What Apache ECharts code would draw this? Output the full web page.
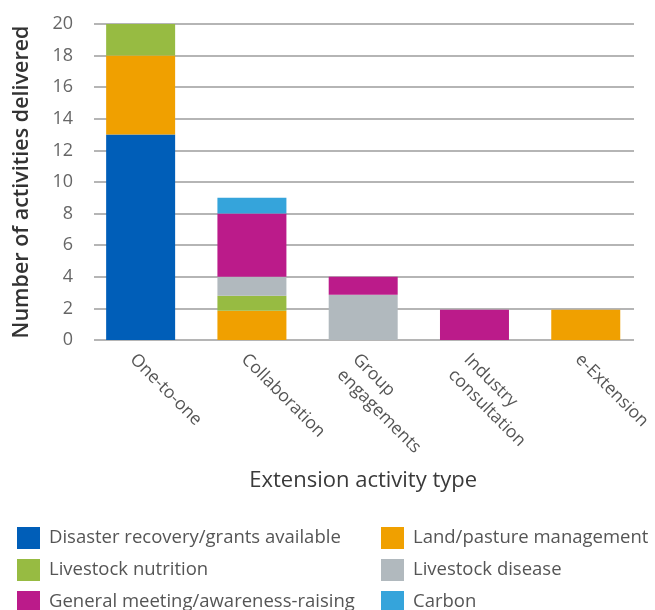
<!DOCTYPE html>
<html><head><meta charset="utf-8">
<script src="https://cdn.jsdelivr.net/npm/echarts@6/dist/echarts.min.js"></script>
<style>html,body{margin:0;padding:0;background:#fff}#c{width:655px;height:610px}</style>
</head><body><div id="c"></div>
<script>
const categories = ['One-to-one', 'Collaboration', 'Group\nengagements', 'Industry\nconsultation', 'e-Extension'];
const disasterRecovery = [13, 0, 0, 0, 0];
const landPasture = [5, 1.85, 0, 0, 1.92];
const livestockNutrition = [2, 0.95, 0, 0, 0];
const livestockDisease = [0, 1.2, 2.86, 0, 0];
const generalMeeting = [0, 4, 1.14, 1.92, 0];
const carbon = [0, 1, 0, 0, 0];
const yTicks = [0, 20, 2];

const seriesDefs = [
  ['Disaster recovery/grants available', disasterRecovery, '#005EB8'],
  ['Land/pasture management', landPasture, '#F0A000'],
  ['Livestock nutrition', livestockNutrition, '#97BB42'],
  ['Livestock disease', livestockDisease, '#B1B9BE'],
  ['General meeting/awareness-raising', generalMeeting, '#BB1B8A'],
  ['Carbon', carbon, '#35A4DB']
];
const font = '"Open Sans", "Noto Sans", sans-serif';
const chart = echarts.init(document.getElementById('c'), null, {renderer: 'canvas'});
const legendCommon = {
  orient: 'vertical', top: 527, height: 100, padding: 0, itemWidth: 23, itemHeight: 22, itemGap: 10,
  icon: 'rect', selectedMode: false,
  textStyle: {fontFamily: font, fontSize: 18.5, color: '#555', padding: [0, 0, 0, 4]}
};
chart.setOption({
  animation: false,
  grid: [
    {left: 94, right: 21, top: 24, bottom: 270},
    {left: 85, right: 12, top: 24, bottom: 270}
  ],
  xAxis: [
    {gridIndex: 0, type: 'value', show: false, min: 0, max: 1},
    {gridIndex: 1, type: 'category', data: categories,
     axisLine: {show: false}, axisTick: {show: false},
     axisLabel: {rotate: -45, verticalAlign: 'top', margin: 9, fontFamily: font, fontSize: 17.5, color: '#555', lineHeight: 22, interval: 0},
     name: 'Extension activity type', nameLocation: 'middle', nameGap: 130,
     nameTextStyle: {fontFamily: font, fontSize: 22, color: '#3a3a3a'}}
  ],
  yAxis: [
    {gridIndex: 0, type: 'value', min: yTicks[0], max: yTicks[1], interval: yTicks[2],
     axisLine: {show: false}, axisTick: {show: false},
     splitLine: {lineStyle: {color: '#9c9c9c', width: 1.5}},
     axisLabel: {margin: 21, fontFamily: font, fontSize: 18, color: '#666'},
     name: 'Number of activities delivered', nameLocation: 'middle', nameGap: 61,
     nameTextStyle: {fontFamily: font, fontSize: 21.5, color: '#333', fontWeight: 600}},
    {gridIndex: 1, type: 'value', min: yTicks[0], max: yTicks[1], show: false}
  ],
  legend: [
    Object.assign({left: 17, data: [seriesDefs[0][0], seriesDefs[2][0], seriesDefs[4][0]]}, legendCommon),
    Object.assign({left: 381, data: [seriesDefs[1][0], seriesDefs[3][0], seriesDefs[5][0]]}, legendCommon)
  ],
  series: seriesDefs.map(([name, data, color]) => ({
    name, type: 'bar', stack: 'total', data, xAxisIndex: 1, yAxisIndex: 1,
    barWidth: '62%', itemStyle: {color}
  }))
});
</script></body></html>
